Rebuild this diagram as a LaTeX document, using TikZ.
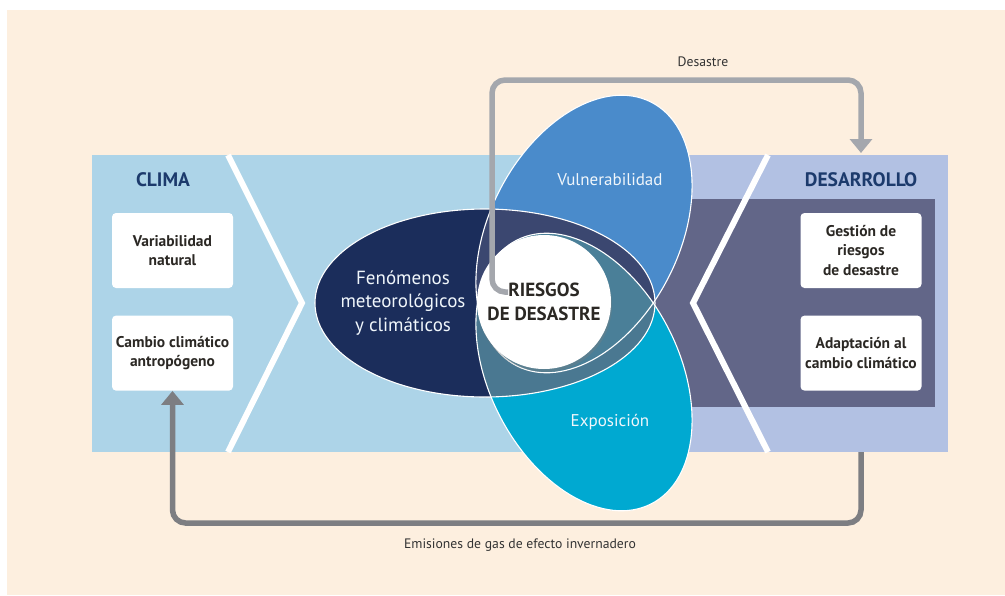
\documentclass[tikz,border=0pt]{standalone}
\usepackage{fontspec}
\setmainfont{PT Sans}
\usetikzlibrary{positioning,arrows.meta,shadows}

\definecolor{crema}{HTML}{FDEFDF}
\definecolor{celeste}{HTML}{ADD4E8}
\definecolor{lavanda}{HTML}{B2C1E3}
\definecolor{pizarra}{HTML}{626688}
\definecolor{azultit}{HTML}{1C3A6C}
\definecolor{marino}{HTML}{1B2D5B}
\definecolor{azulvul}{HTML}{4A8BCB}
\definecolor{cianexp}{HTML}{00A9D1}
\definecolor{vulfen}{HTML}{3B4770}
\definecolor{expfen}{HTML}{4A7891}
\definecolor{vulexp}{HTML}{4F87A6}
\definecolor{lostres}{HTML}{4A7F98}
\definecolor{textocaja}{HTML}{2B2824}
\definecolor{grisosc}{HTML}{7D7E82}
\definecolor{grisclaro}{HTML}{A4A7AD}

\begin{document}
\begin{tikzpicture}[x=1pt,y=-1pt,>={Triangle[width=22pt,length=14pt]},semithick]
\tikzstyle{caja}=[fill=white,rounded corners=4pt,minimum width=121pt,minimum height=75pt,inner sep=2pt,align=center,text=textocaja,font=\fontsize{15.5}{19.5}\selectfont\bfseries]
\tikzstyle{titulo}=[text=azultit,font=\fontsize{19.5}{23}\selectfont\bfseries]
\tikzstyle{petalo}=[align=center,text=white!92!azulvul,font=\fontsize{17}{23.5}\selectfont]
\tikzstyle{riesgo}=[circle,fill=white,minimum size=134pt,inner sep=0pt,align=center,text=textocaja,font=\fontsize{19}{24}\selectfont\bfseries,drop shadow={opacity=0.3,shadow xshift=1pt,shadow yshift=-3pt}]
\tikzstyle{etiqueta}=[text=black!80,font=\fontsize{13.7}{16}\selectfont]
\tikzstyle{chevron}=[white,line width=6pt,miter limit=10]
\tikzstyle{flecha}=[->,line width=5.5pt,rounded corners=13pt]
\tikzstyle{pfen}=[insert path={(485,303) ellipse [x radius=170,y radius=94]}]
\tikzstyle{pvul}=[shift={(584,234)},rotate=63,insert path={(0,0) ellipse [x radius=148,y radius=95]}]
\tikzstyle{pexp}=[shift={(584,372)},rotate=-63,insert path={(0,0) ellipse [x radius=148,y radius=95]}]

\useasboundingbox (0,0) rectangle (1005,595);
\fill[white] (0,0) rectangle (1005,595);
\fill[crema] (7,10) rectangle (1005,595);

% bandas clima / desarrollo
\fill[celeste] (92,155) rectangle (650,452);
\fill[lavanda] (650,155) rectangle (948,452);
\fill[pizarra] (640,199) rectangle (935,407);
\draw[chevron] (228,155) -- (302,303) -- (228,452);
\draw[chevron] (768,155) -- (693,303) -- (768,452);

\node[titulo] (clima) at (163,180) {CLIMA};
\node[caja] (variab) at (172.5,250.5) {Variabilidad\\natural};
\node[caja,below=27pt of variab] (cambio) {Cambio climático\\antropógeno};

\node[titulo] (desarrollo) at (861,180) {DESARROLLO};
\node[caja] (gestion) at (861,250.5) {Gestión de\\riesgos\\de desastre};
\node[caja,below=27pt of gestion] (adapt) {Adaptación al\\cambio climático};

% petalos
\fill[marino,pfen];
\fill[azulvul,pvul];
\fill[cianexp,pexp];
\begin{scope}
\clip[pfen];
\fill[vulfen,pvul];
\fill[expfen,pexp];
\end{scope}
\begin{scope}
\clip[pvul];
\clip[pexp];
\fill[vulexp] (400,150) rectangle (750,450);
\clip[pfen];
\fill[lostres] (400,150) rectangle (750,450);
\end{scope}
\draw[white,line width=1.1pt,pfen];
\draw[white,line width=1.1pt,pvul];
\draw[white,line width=1.1pt,pexp];

\node[petalo,font=\fontsize{19}{23.5}\selectfont] (fenom) at (403,303) {Fenómenos\\meteorológicos\\y climáticos};
\node[petalo] (vulner) at (610,180) {Vulnerabilidad};
\node[petalo] (expos) at (610,422) {Exposición};
\node[riesgo] (riesgos) at (544,302) {RIESGOS\\DE DESASTRE};

% flechas
\coordinate (dcola) at (508,292);
\coordinate (dpunta) at (861,153);
\coordinate (ecola) at (861,452);
\draw[flecha,grisclaro] (dcola) -- (492,292) -- (492,80) -| (dpunta);
\draw[flecha,grisosc] (ecola) -- (861,523) -| (cambio.south);

\node[etiqueta] (ldes) at (703,62) {Desastre};
\node[etiqueta] (lemi) at (520,545) {Emisiones de gas de efecto invernadero};
\end{tikzpicture}
\end{document}
